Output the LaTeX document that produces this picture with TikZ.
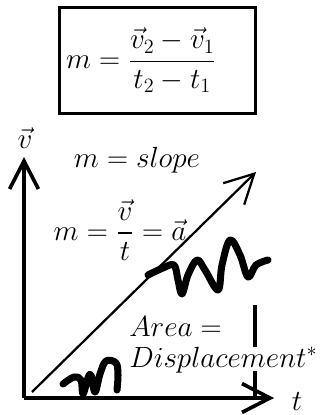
\documentclass[tikz,border=0pt]{standalone}
\usepackage{amsmath, amssymb}
\usepackage{tikz}
\usetikzlibrary{arrows.meta, positioning, calc}

\tikzset{
  bigmath/.style={font=\fontsize{20.5}{24}\selectfont, inner sep=0pt},
  axisline/.style={line width=2.6pt, -{Straight Barb[length=0.7cm, width=0.72cm, line width=2.6pt]}},
  slopeline/.style={line width=1.6pt, -{Straight Barb[length=0.72cm, width=0.75cm, line width=1.6pt]}},
  scribble/.style={line width=5pt, line cap=round, line join=round},
  marker/.style={line width=2.2pt}
}

\begin{document}
\begin{tikzpicture}[x=0.025cm, y=-0.025cm]
  \useasboundingbox (0,0) rectangle (320,415);
  % formula box
  \node[draw, line width=2.3pt, minimum width=4.9cm, minimum height=2.65cm] (box) at (157.5,60.5) {};
  \node[bigmath, anchor=west] (formula) at ([xshift=0.2cm]box.west)
    {$m=\dfrac{\vec{v}_2-\vec{v}_1}{t_2-t_1}$};
  % axes
  \coordinate (O) at (24,398);
  \coordinate (vtop) at (24,157);
  \coordinate (tend) at (274,398);
  \draw[axisline] (O) -- (vtop);
  \draw[axisline] (O) -- (tend);
  \node[bigmath] (vlabel) at (25,138) {$\vec{v}$};
  \node[bigmath] (tlabel) at (297,402) {$t$};
  % slope line
  \coordinate (lstart) at (32,392);
  \coordinate (lend) at (256,172);
  \draw[slopeline] (lstart) -- (lend);
  \node[bigmath] (slope) at (137,160) {$m=slope$};
  \node[bigmath] (accel) at (120,230) {$m=\dfrac{\vec{v}}{t}=\vec{a}$};
  % area
  \node[bigmath, anchor=west] (area) at (129,327) {$Area=$};
  \node[bigmath, anchor=west] (displ) at (129,360) {$Displacement^{*}$};
  \coordinate (mtop) at (255,305);
  \coordinate (mmid) at (255,347);
  \coordinate (mlow) at (255,371);
  \coordinate (mbot) at (255,397);
  \draw[marker] (mtop) -- (mmid);
  \draw[marker] (mlow) -- (mbot);
  % scribbles
  \draw[scribble] plot[smooth, tension=0.6] coordinates {(148,275) (163,268) (174,265) (178,280) (182,294) (188,275) (197,260) (205,270) (218,290) (222,265) (230,240) (240,255) (248,277) (256,265) (268,260)};
  \draw[scribble] plot[smooth, tension=0.6] coordinates {(63,384) (74,377) (81,380) (83,394) (88,378) (91,375) (95,392) (100,374) (106,361) (116,363) (118,375) (117,390)};
\end{tikzpicture}
\end{document}
